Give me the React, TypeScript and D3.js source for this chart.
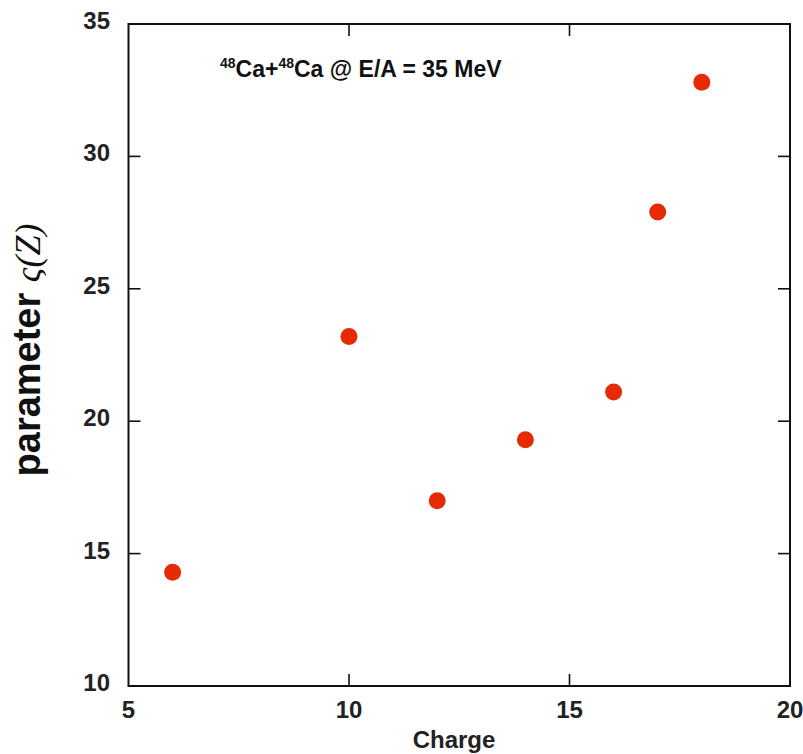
import React from "react";
import * as d3 from "d3";

const charges = [6, 10, 12, 14, 16, 17, 18];
const zetaValues = [14.3, 23.2, 17.0, 19.3, 21.1, 27.9, 32.8];
const xTicks = [5, 10, 15, 20];
const yTicks = [10, 15, 20, 25, 30, 35];

const W = 803;
const H = 754;
const left = 128.5;
const right = 790;
const top = 24;
const bottom = 686;

export default function App() {
  const x = d3.scaleLinear().domain([5, 20]).range([left, right]);
  const y = d3.scaleLinear().domain([10, 35]).range([bottom, top]);
  const tickLen = 12;
  const font = "'Liberation Sans', Arial, Helvetica, sans-serif";
  const innerX = xTicks.filter((t) => t !== 5 && t !== 20);
  const innerY = yTicks.filter((t) => t !== 10 && t !== 35);

  return (
    <svg
      width={W}
      height={H}
      style={{ position: "absolute", left: 0, top: 0, background: "#fff" }}
    >
      <rect x={0} y={0} width={W} height={H} fill="#fff" />
      {innerX.map((t) => (
        <g key={"xt" + t} stroke="#111" strokeWidth={1.6}>
          <line x1={x(t)} x2={x(t)} y1={bottom} y2={bottom - tickLen} />
          <line x1={x(t)} x2={x(t)} y1={top} y2={top + tickLen} />
        </g>
      ))}
      {innerY.map((t) => (
        <g key={"yt" + t} stroke="#111" strokeWidth={1.6}>
          <line x1={left} x2={left + tickLen} y1={y(t)} y2={y(t)} />
          <line x1={right} x2={right - tickLen} y1={y(t)} y2={y(t)} />
        </g>
      ))}
      <rect
        x={left}
        y={top}
        width={right - left}
        height={bottom - top}
        fill="none"
        stroke="#111"
        strokeWidth={2}
      />
      {xTicks.map((t) => (
        <text
          key={"xl" + t}
          x={x(t)}
          y={717.5}
          textAnchor="middle"
          fontFamily={font}
          fontWeight="bold"
          fontSize={24}
          fill="#222"
        >
          {t}
        </text>
      ))}
      {yTicks.map((t) => (
        <text
          key={"yl" + t}
          x={110}
          y={y(t) + 5}
          textAnchor="end"
          fontFamily={font}
          fontWeight="bold"
          fontSize={24}
          fill="#222"
        >
          {t}
        </text>
      ))}
      <text
        x={454}
        y={748}
        textAnchor="middle"
        fontFamily={font}
        fontWeight="bold"
        fontSize={24}
        fill="#222"
      >
        Charge
      </text>
      <text
        transform={`translate(40, 350) rotate(-90)`}
        textAnchor="middle"
        fill="#111"
      >
        <tspan fontFamily={font} fontWeight="bold" fontSize={38}>
          {"parameter "}
        </tspan>
        <tspan
          fontFamily="'Liberation Serif', 'DejaVu Serif', serif"
          fontStyle="italic"
          fontSize={36}
        >
          ς(Z)
        </tspan>
      </text>
      <text x={220} y={77} fontFamily={font} fontWeight="bold" fontSize={23} fill="#111">
        <tspan fontSize={14} dy={-9}>48</tspan>
        <tspan dy={9}>Ca+</tspan>
        <tspan fontSize={14} dy={-9}>48</tspan>
        <tspan dy={9}>Ca @ E/A = 35 MeV</tspan>
      </text>
      {charges.map((c, i) => (
        <circle key={"p" + i} cx={x(c)} cy={y(zetaValues[i])} r={8.5} fill="#e62a05" />
      ))}
    </svg>
  );
}
